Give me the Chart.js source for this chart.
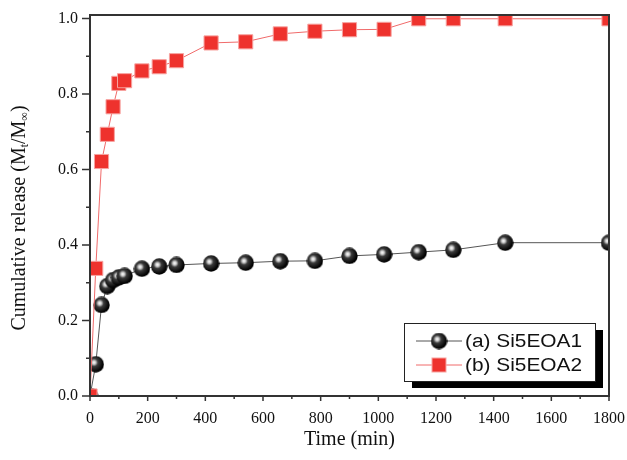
<!DOCTYPE html>
<html>
<head>
<meta charset="utf-8">
<script src="https://cdn.jsdelivr.net/npm/chart.js@4.4.1/dist/chart.umd.min.js"></script>
<style>
html, body { margin: 0; padding: 0; background: #fff; }
#wrap { width: 627px; height: 460px; }
</style>
</head>
<body>
<div id="wrap"><canvas id="chart" width="627" height="460"></canvas></div>
<script>
// data
const timeMin = [0, 20, 40, 60, 80, 100, 120, 180, 240, 300, 420, 540, 660, 780, 900, 1020, 1140, 1260, 1440, 1800];
const releaseA = [0, 0.084, 0.241, 0.291, 0.307, 0.314, 0.318, 0.337, 0.343, 0.347, 0.351, 0.353, 0.357, 0.358, 0.371, 0.375, 0.381, 0.387, 0.406, 0.406];
const releaseB = [0, 0.338, 0.621, 0.693, 0.766, 0.828, 0.835, 0.861, 0.872, 0.888, 0.935, 0.938, 0.959, 0.966, 0.970, 0.971, 0.999, 0.999, 0.999, 0.999];
const seriesLabels = ['(a) Si5EOA1', '(b) Si5EOA2'];
const xTickLabels = [0, 200, 400, 600, 800, 1000, 1200, 1400, 1600, 1800];
const yTickLabels = [0, 0.2, 0.4, 0.6, 0.8, 1.0];

const FRAME = '#333333';
const SERIF = "'Liberation Serif', 'Times New Roman', serif";
const SANS = "'Liberation Sans', Arial, sans-serif";
Chart.defaults.font.family = SERIF;

// shaded ball marker
function makeSphere(d) {
    const c = document.createElement('canvas');
    c.width = d; c.height = d;
    const g = c.getContext('2d');
    const r = d / 2;
    const grad = g.createRadialGradient(r - 1.8, r - 1.8, 0, r - 1.8, r - 1.8, r + 1);
    grad.addColorStop(0, '#ffffff');
    grad.addColorStop(0.18, '#d0d0d0');
    grad.addColorStop(0.42, '#3a3a3a');
    grad.addColorStop(1, '#000000');
    g.fillStyle = grad;
    g.beginPath();
    g.arc(r, r, r - 0.3, 0, Math.PI * 2);
    g.fill();
    return c;
}
const sphere = makeSphere(17);

function pairs(ys) {
    return timeMin.map((t, i) => ({ x: t, y: ys[i] }));
}

// frame, minor/major ticks, axis titles
const decor = {
    id: 'decor',
    afterDraw(chart) {
        const ctx = chart.ctx;
        const a = chart.chartArea;
        const xs = chart.scales.x, ys = chart.scales.y;
        ctx.save();
        ctx.strokeStyle = FRAME;
        ctx.lineWidth = 2;
        ctx.strokeRect(a.left, a.top, a.right - a.left, a.bottom - a.top);

        ctx.lineWidth = 1.5;
        ctx.beginPath();
        for (let v = 0; v <= 1800; v += 100) {
            const px = xs.getPixelForValue(v);
            const len = v % 200 === 0 ? 5 : 3;
            ctx.moveTo(px, a.bottom);
            ctx.lineTo(px, a.bottom + len);
        }
        for (let k = 0; k <= 10; k++) {
            const py = ys.getPixelForValue(k / 10);
            const len = k % 2 === 0 ? 8 : 4;
            ctx.moveTo(a.left, py);
            ctx.lineTo(a.left - len, py);
        }
        ctx.stroke();

        // x title
        ctx.fillStyle = '#111';
        ctx.font = '20px ' + SERIF;
        ctx.textAlign = 'center';
        ctx.textBaseline = 'middle';
        ctx.fillText('Time (min)', (a.left + a.right) / 2, 440);

        // y title with subscripts
        const big = '20px ' + SERIF, small = '12px ' + SERIF;
        const parts = [
            ['Cumulative release (M', big, 0],
            ['t', small, 5],
            ['/M', big, 0],
            ['\u221e', small, 5],
            [')', big, 0]
        ];
        let total = 0;
        parts.forEach(p => { ctx.font = p[1]; p.push(ctx.measureText(p[0]).width); total += p[3]; });
        ctx.translate(20, 218);
        ctx.rotate(-Math.PI / 2);
        ctx.textAlign = 'left';
        ctx.textBaseline = 'middle';
        let cx = -total / 2;
        parts.forEach(p => {
            ctx.font = p[1];
            ctx.fillText(p[0], cx, p[2]);
            cx += p[3];
        });
        ctx.restore();
    }
};

// boxed legend with drop shadow
const boxLegend = {
    id: 'boxLegend',
    afterDraw(chart) {
        const ctx = chart.ctx;
        const bx = 404, by = 323, bw = 191, bh = 58;
        ctx.save();
        ctx.fillStyle = '#000';
        ctx.fillRect(bx + 8, by + 7, bw, bh);
        ctx.fillStyle = '#fff';
        ctx.fillRect(bx, by, bw, bh);
        ctx.strokeStyle = '#222';
        ctx.lineWidth = 1;
        ctx.strokeRect(bx + 0.5, by + 0.5, bw, bh);

        const rows = [341, 365];
        chart.data.datasets.forEach((ds, i) => {
            const y = rows[i];
            ctx.strokeStyle = ds.borderColor;
            ctx.lineWidth = 1;
            ctx.beginPath();
            ctx.moveTo(416, y);
            ctx.lineTo(462, y);
            ctx.stroke();
            if (i === 0) {
                ctx.drawImage(sphere, 439 - 8.5, y - 8.5);
            } else {
                ctx.fillStyle = ds.pointBackgroundColor;
                ctx.fillRect(432, y - 7, 14, 14);
                ctx.strokeStyle = ds.pointBorderColor;
                ctx.strokeRect(432, y - 7, 14, 14);
            }
            ctx.fillStyle = '#111';
            ctx.font = '18px ' + SANS;
            ctx.textAlign = 'left';
            ctx.textBaseline = 'middle';
            const w = ctx.measureText(ds.label).width;
            ctx.save();
            ctx.translate(465, y);
            ctx.scale(117 / w, 1);
            ctx.fillText(ds.label, 0, 1);
            ctx.restore();
        });
        ctx.restore();
    }
};

new Chart(document.getElementById('chart'), {
    type: 'line',
    data: {
        datasets: [
            {
                label: seriesLabels[0],
                data: pairs(releaseA),
                borderColor: '#555555',
                borderWidth: 1,
                pointStyle: sphere,
                pointRadius: 8,
                pointBackgroundColor: '#000',
                pointBorderColor: '#000',
                order: 2
            },
            {
                label: seriesLabels[1],
                data: pairs(releaseB),
                borderColor: '#f06a6a',
                borderWidth: 1,
                pointStyle: 'rect',
                pointRadius: 10,
                pointBackgroundColor: '#ee322d',
                pointBorderColor: '#f7a3a0',
                pointBorderWidth: 1,
                order: 1
            }
        ]
    },
    options: {
        responsive: false,
        animation: false,
        layout: { padding: { top: 15, right: 18, left: 0, bottom: 0 } },
        plugins: { legend: { display: false }, tooltip: { enabled: false } },
        scales: {
            x: {
                type: 'linear',
                min: 0,
                max: 1800,
                afterBuildTicks: s => { s.ticks = xTickLabels.map(v => ({ value: v })); },
                afterFit: s => { s.height = 64; s.paddingLeft = 0; s.paddingRight = 0; },
                grid: { display: false, drawTicks: false },
                border: { display: false },
                ticks: {
                    font: { family: SERIF, size: 16 },
                    color: '#111',
                    padding: 13,
                    maxRotation: 0,
                    autoSkip: false,
                    callback: v => String(v)
                }
            },
            y: {
                type: 'linear',
                min: 0,
                max: 1.009,
                afterBuildTicks: s => { s.ticks = yTickLabels.map(v => ({ value: v })); },
                afterFit: s => { s.width = 90; s.paddingTop = 0; s.paddingBottom = 0; },
                grid: { display: false, drawTicks: false },
                border: { display: false },
                ticks: {
                    font: { family: SERIF, size: 16 },
                    color: '#111',
                    padding: 12,
                    callback: v => v.toFixed(1)
                }
            }
        }
    },
    plugins: [decor, boxLegend]
});
</script>
</body>
</html>
